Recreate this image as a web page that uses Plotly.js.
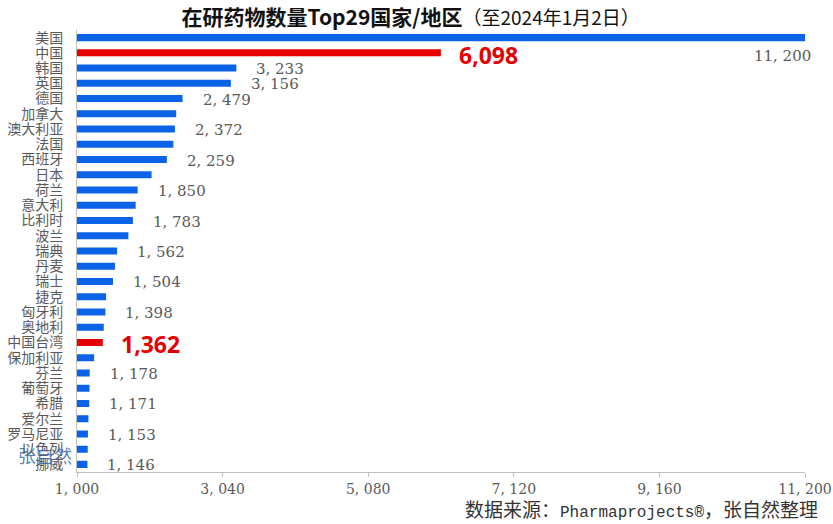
<!DOCTYPE html>
<html>
<head>
<meta charset="utf-8">
<script src="https://cdn.plot.ly/plotly-3.0.1.min.js"></script>
<style>html,body{margin:0;padding:0;background:#fff;}#chart{width:833px;height:524px;}</style>
</head>
<body>
<div id="chart"></div>
<script>
// Data
const countries = ['美国','中国','韩国','英国','德国','加拿大','澳大利亚','法国','西班牙','日本','荷兰','意大利','比利时','波兰','瑞典','丹麦','瑞士','捷克','匈牙利','奥地利','中国台湾','保加利亚','芬兰','葡萄牙','希腊','爱尔兰','罗马尼亚','以色列','挪威'];
const drugCounts = [11200,6098,3233,3156,2479,2390,2372,2350,2259,2045,1850,1822,1783,1720,1562,1532,1504,1408,1398,1375,1362,1240,1178,1175,1171,1160,1153,1150,1146];
const highlighted = ['中国','中国台湾'];
const labeledCountries = ['韩国','英国','德国','澳大利亚','西班牙','荷兰','比利时','瑞典','瑞士','匈牙利','芬兰','希腊','罗马尼亚','挪威'];
const xTickVals = [1000,3040,5080,7120,9160,11200];
const xTickText = ['1, 000','3, 040','5, 080','7, 120','9, 160','11, 200'];
const titleMain = '在研药物数量Top29国家/地区';
const titleSub = '（至2024年1月2日）';
const sourcePrefix = '数据来源：';
const sourceName = 'Pharmaprojects®';
const sourceSuffix = '，张自然整理';
const watermark = '张自然';

const BLUE = '#0a63e6', RED = '#e60000', GRAY = '#595959';
const serif = '"DejaVu Serif", "Liberation Serif", "Noto Sans CJK SC", serif';
const cjk = '"Noto Sans CJK SC", sans-serif';

function fmt(v, sep){ return String(v).replace(/\B(?=(\d{3})+(?!\d))/g, sep); }

const trace = {
  type: 'bar', orientation: 'h',
  x: drugCounts, y: countries,
  width: 0.46,
  marker: {color: countries.map(c => highlighted.includes(c) ? RED : BLUE)},
  hoverinfo: 'x+y'
};

const annotations = [];
countries.forEach((c, i) => {
  const v = drugCounts[i];
  if (highlighted.includes(c)) {
    annotations.push({x: v, y: c, xref: 'x', yref: 'y', text: '<b>' + fmt(v, ',') + '</b>',
      showarrow: false, xanchor: 'left', xshift: 16, yshift: -2,
      font: {family: '"Open Sans", "Liberation Sans", sans-serif', size: 23, color: RED}});
  } else if (labeledCountries.includes(c)) {
    annotations.push({x: v, y: c, xref: 'x', yref: 'y', text: fmt(v, ', '),
      showarrow: false, xanchor: 'left', xshift: 18, yshift: -1,
      font: {family: serif, size: 15, color: GRAY}});
  }
});
// top bar label placed below the bar end
annotations.push({x: drugCounts[0], y: countries[0], xref: 'x', yref: 'y', text: fmt(drugCounts[0], ', '),
  showarrow: false, xanchor: 'right', xshift: 8, yshift: -18,
  font: {family: serif, size: 15, color: GRAY}});
annotations.push({xref: 'paper', yref: 'paper', x: 1.021, y: -0.082, xanchor: 'right', yanchor: 'middle',
  text: sourcePrefix + '<span style="font-family:\'Liberation Mono\';font-size:16px">' + sourceName + '</span>' + sourceSuffix,
  showarrow: false, font: {family: cjk, size: 19, color: '#333'}});
annotations.push({xref: 'paper', yref: 'paper', x: -0.044, y: 0.038, xanchor: 'center', yanchor: 'middle',
  text: watermark, showarrow: false, font: {family: cjk, size: 18, color: 'rgba(55,105,170,0.85)'}});

const layout = {
  width: 833, height: 524,
  margin: {l: 77, r: 28, t: 30, b: 52, pad: 0, autoexpand: false},
  paper_bgcolor: '#fff', plot_bgcolor: '#fff',
  showlegend: false,
  title: {
    text: '<b>' + titleMain + '</b><span style="font-size:19px">' + titleSub + '</span>',
    x: 0.493, xanchor: 'center', y: 0.967, yanchor: 'middle', automargin: false,
    font: {family: cjk, size: 21, color: '#111'}
  },
  xaxis: {
    range: [1000, 11200], tickmode: 'array', tickvals: xTickVals, ticktext: xTickText,
    showgrid: false, zeroline: false, showline: true, linecolor: '#bfbfbf', linewidth: 1,
    ticks: 'outside', ticklen: 4, tickcolor: '#bfbfbf', automargin: false,
    tickfont: {family: serif, size: 14, color: GRAY}
  },
  yaxis: {
    type: 'category', range: [countries.length - 0.5, -0.5], autorange: false,
    tickmode: 'array', tickvals: countries, ticktext: countries,
    showgrid: false, zeroline: false, showline: true, linecolor: '#bfbfbf', linewidth: 1,
    ticks: '', ticklabelstandoff: 10, automargin: false,
    tickfont: {family: cjk, size: 14, color: GRAY}
  },
  bargap: 0.54,
  annotations: annotations
};

Plotly.newPlot('chart', [trace], layout, {displayModeBar: false, staticPlot: true});
</script>
</body>
</html>
